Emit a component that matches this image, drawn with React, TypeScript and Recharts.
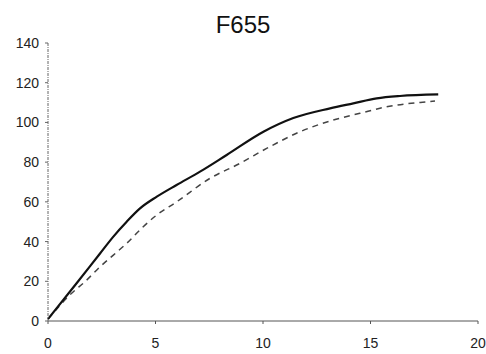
import React from "react";
import { LineChart, Line, XAxis, YAxis } from "recharts";

// series (x, y)
const solidX = [0, 1.33, 2.42, 3.04, 3.66, 4.28, 5.06, 5.98, 7.07, 8.31, 10.02, 11.41, 13.12, 14.2, 15.29, 16.37, 18.15];
const solidY = [1, 19, 34, 42.5, 50, 56.7, 62.6, 68.5, 75.2, 83.6, 95.3, 102.2, 107.1, 109.6, 112.1, 113.3, 114.1];

const dashX = [0, 1.1, 1.72, 2.42, 3.04, 3.66, 4.43, 5.06, 5.98, 7.53, 8.93, 10.17, 11.72, 13.27, 14.51, 15.75, 17.61, 18.0];
const dashY = [1, 14, 19.8, 27.3, 33.2, 39.1, 47.5, 53.4, 60, 71.8, 79.4, 86.9, 95.3, 101.2, 104.6, 107.9, 110.4, 110.8];

const xTicks = [0, 5, 10, 15, 20];
const yTicks = [0, 20, 40, 60, 80, 100, 120, 140];

const solidData = solidX.map((x, i) => ({ x, y: solidY[i] }));
const dashData = dashX.map((x, i) => ({ x, y: dashY[i] }));

const font = "'Liberation Sans', Arial, sans-serif";

const App: React.FC = () => {
  return (
    <div style={{ position: "absolute", left: 0, top: 0, width: 486, height: 354, background: "#fff" }}>
      <div
        style={{
          position: "absolute",
          left: 0,
          width: 486,
          top: 13,
          textAlign: "center",
          fontFamily: font,
          fontSize: 24,
          lineHeight: 1,
          color: "#111",
        }}
      >
        F655
      </div>
      <LineChart
        width={486}
        height={354}
        margin={{ top: 43, right: 8, bottom: 0, left: 0 }}
      >
        <XAxis
          type="number"
          dataKey="x"
          domain={[0, 20]}
          ticks={xTicks}
          height={33}
          tickSize={3}
          tickMargin={14}
          stroke="#555"
          tick={{ fill: "#222", fontSize: 14, fontFamily: font }}
          allowDuplicatedCategory={false}
        />
        <YAxis
          type="number"
          dataKey="y"
          domain={[0, 140]}
          ticks={yTicks}
          width={48}
          tickSize={3}
          tickMargin={6}
          stroke="#666"
          strokeDasharray="3 1 1 1"
          tick={{ fill: "#222", fontSize: 14, fontFamily: font }}
        />
        <Line
          data={dashData}
          type="monotone"
          dataKey="y"
          stroke="#444"
          strokeWidth={1.5}
          strokeDasharray="6 5"
          dot={false}
          isAnimationActive={false}
        />
        <Line
          data={solidData}
          type="monotone"
          dataKey="y"
          stroke="#111"
          strokeWidth={2.2}
          dot={false}
          isAnimationActive={false}
        />
      </LineChart>
    </div>
  );
};

export default App;
